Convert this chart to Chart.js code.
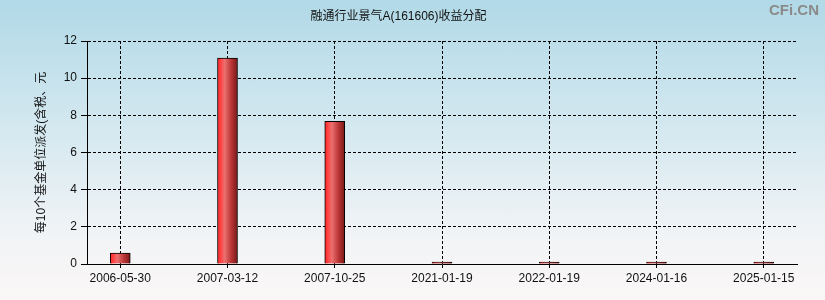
<!DOCTYPE html>
<html>
<head>
<meta charset="utf-8">
<script src="https://cdn.jsdelivr.net/npm/chart.js@4/dist/chart.umd.min.js"></script>
<style>
  html, body { margin: 0; padding: 0; }
  body {
    width: 825px; height: 300px; overflow: hidden;
    background: linear-gradient(to bottom, #b1d9e7 0%, #d6e9f0 45%, #f2f4f6 80%, #fbf7f7 100%);
    position: relative;
  }
  #wrap { position: absolute; left: 0; top: 0; width: 825px; height: 300px; }
  .mark {
    position: absolute; right: 6px; top: 1px;
    font: bold 15px "Liberation Sans", Arial, sans-serif;
    color: #8a8a8a;
  }
</style>
</head>
<body>
<div id="wrap"><canvas id="chart" width="825" height="300"></canvas></div>
<div class="mark">CFi.CN</div>
<script>
// dividend dates and amounts (per 10 units, yuan)
const dates = ["2006-05-30", "2007-03-12", "2007-10-25", "2021-01-19", "2022-01-19", "2024-01-16", "2025-01-15"];
const payouts = [0.59, 11.08, 7.68, 0.1, 0.1, 0.1, 0.1];
const yTicks = [0, 2, 4, 6, 8, 10, 12];

const titleText = "融通行业景气A(161606)收益分配";
const yTitle = "每10个基金单位派发(含税、元";

const FONT = '"Liberation Sans", "Noto Sans CJK SC", Arial, sans-serif';

// horizontal shading on each bar
function barFill(ctx) {
  const chart = ctx.chart;
  const xs = chart.scales.x;
  if (!xs || !ctx.raw) return "#e03030";
  const cx = xs.getPixelForValue(ctx.raw.x);
  if (!isFinite(cx)) return "#e03030";
  const g = chart.ctx.createLinearGradient(cx - 10, 0, cx + 10, 0);
  g.addColorStop(0, "#ff2626");
  g.addColorStop(0.15, "#ff4040");
  g.addColorStop(0.35, "#ec7070");
  g.addColorStop(0.7, "#b83434");
  g.addColorStop(1, "#7a1818");
  return g;
}

new Chart(document.getElementById("chart"), {
  type: "bar",
  data: {
    datasets: [{
      data: payouts.map((v, i) => ({ x: i, y: v })),
      backgroundColor: barFill,
      borderColor: "#000",
      borderWidth: 1,
      barThickness: 20,
    }],
  },
  options: {
    responsive: false,
    animation: false,
    layout: { padding: { top: 0, right: 28, bottom: 0, left: 0 } },
    plugins: {
      legend: { display: false },
      tooltip: { enabled: false },
      title: {
        display: true,
        text: titleText,
        color: "#111",
        font: { family: FONT, size: 12, weight: "normal" },
        padding: { top: 9, bottom: 17.6 },
      },
    },
    scales: {
      x: {
        type: "linear",
        min: -0.31,
        max: 6.31,
        offset: false,
        afterBuildTicks: (s) => { s.ticks = dates.map((_, i) => ({ value: i })); },
        afterFit: (s) => { s.height = 36; },
        ticks: {
          autoSkip: false,
          maxRotation: 0,
          color: "#111",
          font: { family: FONT, size: 12 },
          padding: 3,
          callback: (v) => dates[v],
        },
        grid: {
          offset: false,
          color: "#000",
          lineWidth: 1,
          tickLength: 4,
          tickBorderDash: [],
        },
        border: { display: true, color: "#000", width: 1, dash: [3, 2] },
      },
      y: {
        min: 0,
        max: 12,
        afterBuildTicks: (s) => { s.ticks = yTicks.map((v) => ({ value: v })); },
        afterFit: (s) => { s.width = 87; },
        ticks: {
          color: "#111",
          font: { family: FONT, size: 12 },
          padding: 4,
        },
        grid: {
          color: "#000",
          lineWidth: 1,
          tickLength: 6,
          tickBorderDash: [],
        },
        border: { display: true, color: "#000", width: 1, dash: [3, 2] },
        title: {
          display: true,
          text: yTitle,
          color: "#111",
          font: { family: FONT, size: 12 },
          padding: { top: 34, bottom: 0 },
        },
      },
    },
  },
});
</script>
</body>
</html>
